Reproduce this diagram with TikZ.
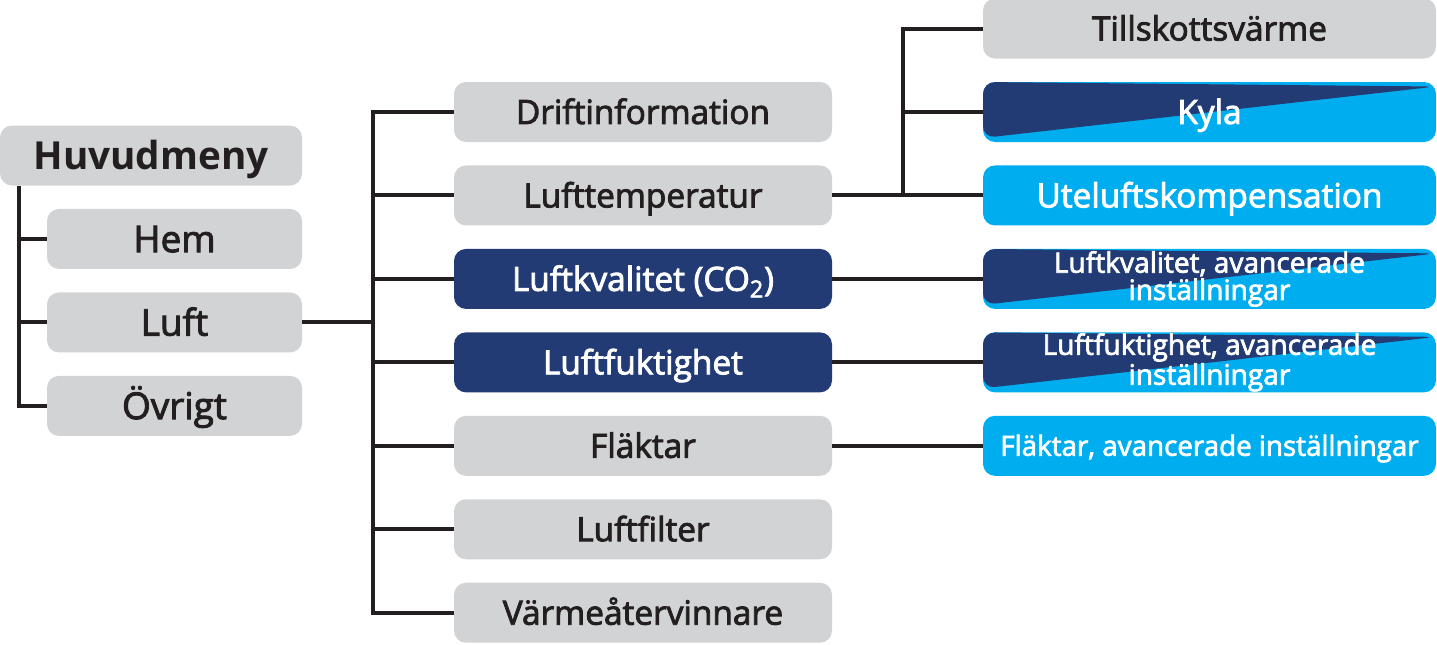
\documentclass[tikz,border=0pt]{standalone}
\usepackage{fontspec}
\setmainfont{Open Sans}
\newfontfamily\semibold{Open Sans}[FakeBold=2.5]
\usetikzlibrary{positioning}
\definecolor{boxgray}{HTML}{D1D3D4}
\definecolor{navy}{HTML}{223B74}
\definecolor{sky}{HTML}{00AEEF}
\definecolor{ink}{HTML}{231F20}

\begin{document}
\begin{tikzpicture}[node distance=0.455cm,
      menu/.style={rectangle,rounded corners=0.24cm,minimum height=1.2cm,inner sep=0pt,text centered,text height=13.6pt,text depth=0pt,fill=boxgray,text=ink,font=\semibold\fontsize{19}{19}\selectfont},
      level1/.style={minimum width=5.1cm,text height=15pt,font=\semibold\fontsize{21}{21}\selectfont},
      level2/.style={minimum width=7.56cm},
      level3/.style={minimum width=9.06cm},
      dark/.style={fill=navy,text=white},
      light/.style={fill=sky,text=white},
      split/.style={light,path picture={\fill[navy] ([yshift=-0.09cm]path picture bounding box.north east) -- (path picture bounding box.north west) -- ([yshift=0.08cm]path picture bounding box.south west) -- cycle;}},
      small/.style={align=center,text height=,text depth=,font=\semibold\fontsize{16}{15.5}\selectfont},
      conn/.style={line width=2.3pt,draw=ink}
      ]
      \useasboundingbox (0,0) rectangle (28.74,-12.9);
      \node (huvud) [menu,minimum width=6.04cm,text height=15.7pt,font=\bfseries\fontsize{22}{22}\selectfont] at (3.02,-3.11) {Huvudmeny};
      \node (hem) [menu,level1,below=of huvud.south east,anchor=north east] {Hem};
      \node (luft) [menu,level1,below=of hem] {Luft};
      \node (ovrigt) [menu,level1,below=of luft] {Övrigt};
      \coordinate (t1) at ([xshift=0.38cm]huvud.south west);
      \draw[conn] (t1) |- (ovrigt.west);
      \draw[conn] (hem.west) -- (hem.west -| t1);
      \draw[conn] (luft.west) -- (luft.west -| t1);

      \node (drift) [menu,level2] at (12.86,-2.24) {Driftinformation};
      \node (temp) [menu,level2,below=of drift] {Lufttemperatur};
      \node (kval) [menu,level2,dark,below=of temp] {Luftkvalitet (CO\textsubscript{2})};
      \node (fukt) [menu,level2,dark,below=of kval] {Luftfuktighet};
      \node (flakt) [menu,level2,below=of fukt] {Fläktar};
      \node (filter) [menu,level2,below=of flakt] {Luftfilter};
      \node (varme) [menu,level2,below=of filter] {Värmeåtervinnare};
      \coordinate (t2) at (7.46,0);
      \draw[conn] (drift.west) -| (t2 |- varme.west) -- (varme.west);
      \foreach \n in {temp,kval,fukt,flakt,filter}
        \draw[conn] (\n.west) -- (\n.west -| t2);
      \draw[conn] (luft.east) -- (luft.east -| t2);

      \node (kyla) [menu,level3,split] at (24.19,-2.24) {Kyla};
      \node (till) [menu,level3,above=of kyla] {Tillskottsvärme};
      \node (ute) [menu,level3,light,below=of kyla] {Uteluftskompensation};
      \node (kvaladv) [menu,level3,split,small,below=of ute] {Luftkvalitet, avancerade\\inställningar};
      \node (fuktadv) [menu,level3,split,small,below=of kvaladv] {Luftfuktighet, avancerade\\inställningar};
      \node (flaktadv) [menu,level3,light,text height=11.3pt,font=\semibold\fontsize{15.8}{15.8}\selectfont,below=of fuktadv] {Fläktar, avancerade inställningar};
      \coordinate (t3) at (18.06,0);
      \draw[conn] (till.west) -| (t3 |- ute.west);
      \draw[conn] (temp.east) -- (ute.west);
      \draw[conn] (kyla.west) -- (kyla.west -| t3);
      \draw[conn] (kval.east) -- (kvaladv.west);
      \draw[conn] (fukt.east) -- (fuktadv.west);
      \draw[conn] (flakt.east) -- (flaktadv.west);
    \end{tikzpicture}
\end{document}
